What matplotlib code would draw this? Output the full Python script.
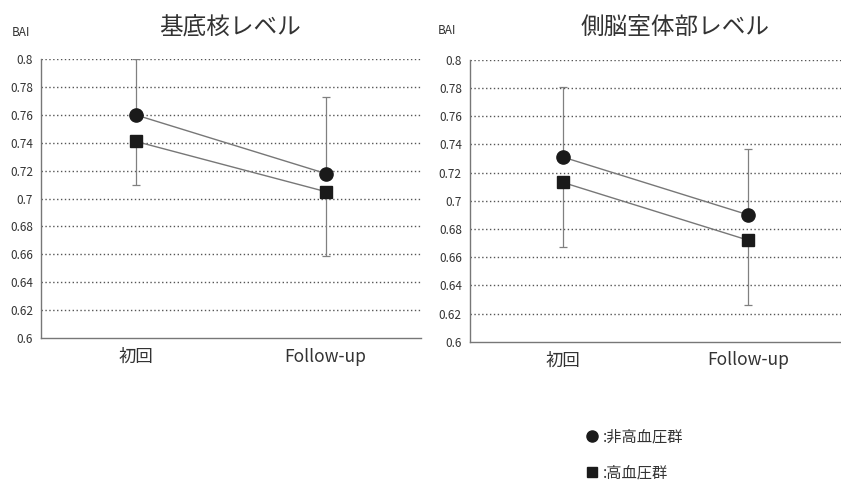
import matplotlib.pyplot as plt
from matplotlib.lines import Line2D
import numpy as np

plt.rcParams['font.family'] = ['Noto Sans CJK JP', 'DejaVu Sans']

categories = ["初回", "Follow-up"]
titles = ["基底核レベル", "側脳室体部レベル"]
group_labels = [":非高血圧群", ":高血圧群"]

# 基底核レベル
basal_normo = [0.760, 0.718]
basal_hyper = [0.741, 0.705]
basal_normo_err_up = [0.040, 0.055]
basal_hyper_err_down = [0.031, 0.046]

# 側脳室体部レベル
vent_normo = [0.731, 0.690]
vent_hyper = [0.713, 0.672]
vent_normo_err_up = [0.050, 0.047]
vent_hyper_err_down = [0.046, 0.046]

yticks = [0.6, 0.62, 0.64, 0.66, 0.68, 0.7, 0.72, 0.74, 0.76, 0.78, 0.8]
ytick_labels = ["0.6", "0.62", "0.64", "0.66", "0.68", "0.7", "0.72", "0.74", "0.76", "0.78", "0.8"]

panels = [
    (titles[0], basal_normo, basal_hyper, basal_normo_err_up, basal_hyper_err_down),
    (titles[1], vent_normo, vent_hyper, vent_normo_err_up, vent_hyper_err_down),
]
# axes rectangles, title / BAI positions in figure fractions
rects = [
    [0.049, 0.299, 0.451, 0.578],
    [0.559, 0.291, 0.441, 0.585],
]
title_pos = [(0.274, 0.942), (0.803, 0.942)]
bai_pos = [(0.014, 0.933), (0.521, 0.937)]

fig = plt.figure(figsize=(8.41, 4.82), dpi=100)
txt = "#333333"
x = np.arange(len(categories))

for (title, normo, hyper, up, down), rect, tp, bp in zip(panels, rects, title_pos, bai_pos):
    ax = fig.add_axes(rect)
    ax.errorbar(x, normo, yerr=[np.zeros(2), up], fmt="none", ecolor="#808080",
                elinewidth=0.9, capsize=3, capthick=0.9, zorder=2)
    ax.errorbar(x, hyper, yerr=[down, np.zeros(2)], fmt="none", ecolor="#808080",
                elinewidth=0.9, capsize=3, capthick=0.9, zorder=2)
    ax.plot(x, normo, color="#777777", lw=1.0, marker="o", ms=9.5,
            mfc="#1a1a1a", mec="#1a1a1a", zorder=3)
    ax.plot(x, hyper, color="#777777", lw=1.0, marker="s", ms=8,
            mfc="#1a1a1a", mec="#1a1a1a", zorder=3)

    ax.set_xlim(-0.5, 1.5)
    ax.set_ylim(0.6, 0.8)
    ax.set_yticks(yticks)
    ax.set_yticklabels(ytick_labels)
    ax.set_xticks(x)
    ax.set_xticklabels(categories)
    ax.tick_params(axis="y", length=0, labelsize=8.5, colors=txt, pad=6)
    ax.tick_params(axis="x", length=0, labelsize=12.5, colors=txt, pad=7)
    for yv in yticks[1:]:
        ax.axhline(yv, color="#555555", lw=1.0, ls=(0, (1.0, 1.8)), zorder=1)
    for s in ["top", "right"]:
        ax.spines[s].set_visible(False)
    for s in ["left", "bottom"]:
        ax.spines[s].set_color("#777777")
        ax.spines[s].set_linewidth(1.0)
    fig.text(bp[0], bp[1], "BAI", fontsize=8.5, color=txt, ha="left", va="center")
    fig.text(tp[0], tp[1], title, fontsize=17, color=txt, ha="center", va="center")

handles = [
    Line2D([], [], ls="none", marker="o", ms=8, mfc="#1a1a1a", mec="#1a1a1a"),
    Line2D([], [], ls="none", marker="s", ms=7.5, mfc="#1a1a1a", mec="#1a1a1a"),
]
fig.legend(handles, group_labels, loc="upper left", bbox_to_anchor=(0.688, 0.124),
           frameon=False, fontsize=11, labelcolor=txt, handlelength=0.9,
           handletextpad=0.3, labelspacing=1.25, borderaxespad=0)

fig.savefig("out.png", dpi=100)
